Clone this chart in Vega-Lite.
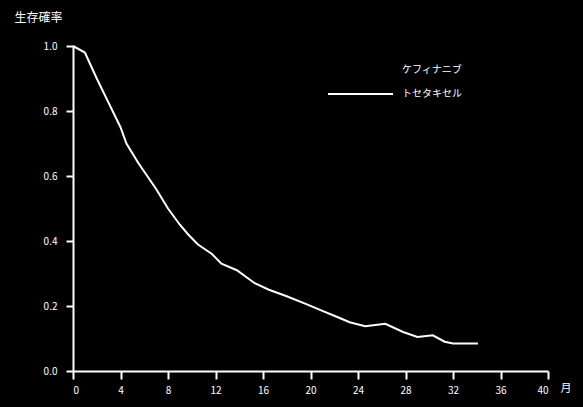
{
  "$schema": "https://vega.github.io/schema/vega-lite/v6.json",
  "width": 475,
  "height": 325,
  "autosize": {"type": "none"},
  "padding": {"left": 73, "top": 46, "right": 35, "bottom": 36},
  "background": "#000000",
  "config": {
    "view": {"stroke": null},
    "font": "Noto Sans CJK JP",
    "axis": {
      "domainColor": "#ffffff",
      "domainWidth": 2,
      "tickColor": "#ffffff",
      "tickWidth": 2,
      "grid": false,
      "labelColor": "#ffffff",
      "labelFontSize": 10,
      "labelFont": "Noto Sans CJK JP",
      "titleColor": "#ffffff",
      "titleFont": "Noto Sans CJK JP",
      "titleFontSize": 11,
      "titleFontWeight": "normal"
    },
    "legend": {
      "labelColor": "#ffffff",
      "labelFont": "Noto Sans CJK JP",
      "labelFontSize": 10
    }
  },
  "data": {
    "values": [
      {"t": 0, "s": 1.0, "g": "トセタキセル"},
      {"t": 1, "s": 0.98, "g": "トセタキセル"},
      {"t": 2, "s": 0.90, "g": "トセタキセル"},
      {"t": 3, "s": 0.825, "g": "トセタキセル"},
      {"t": 4, "s": 0.75, "g": "トセタキセル"},
      {"t": 4.5, "s": 0.70, "g": "トセタキセル"},
      {"t": 5.5, "s": 0.64, "g": "トセタキセル"},
      {"t": 7, "s": 0.56, "g": "トセタキセル"},
      {"t": 8, "s": 0.50, "g": "トセタキセル"},
      {"t": 9, "s": 0.45, "g": "トセタキセル"},
      {"t": 9.7, "s": 0.42, "g": "トセタキセル"},
      {"t": 10.5, "s": 0.39, "g": "トセタキセル"},
      {"t": 11.7, "s": 0.36, "g": "トセタキセル"},
      {"t": 12.5, "s": 0.33, "g": "トセタキセル"},
      {"t": 13.8, "s": 0.31, "g": "トセタキセル"},
      {"t": 15.3, "s": 0.27, "g": "トセタキセル"},
      {"t": 16.5, "s": 0.25, "g": "トセタキセル"},
      {"t": 18, "s": 0.23, "g": "トセタキセル"},
      {"t": 19.7, "s": 0.205, "g": "トセタキセル"},
      {"t": 21, "s": 0.185, "g": "トセタキセル"},
      {"t": 22, "s": 0.17, "g": "トセタキセル"},
      {"t": 23.3, "s": 0.15, "g": "トセタキセル"},
      {"t": 24.6, "s": 0.138, "g": "トセタキセル"},
      {"t": 26.3, "s": 0.145, "g": "トセタキセル"},
      {"t": 27.8, "s": 0.12, "g": "トセタキセル"},
      {"t": 29, "s": 0.105, "g": "トセタキセル"},
      {"t": 30.3, "s": 0.11, "g": "トセタキセル"},
      {"t": 31.3, "s": 0.09, "g": "トセタキセル"},
      {"t": 32, "s": 0.085, "g": "トセタキセル"},
      {"t": 34.1, "s": 0.085, "g": "トセタキセル"}
    ]
  },
  "mark": {"type": "line", "strokeWidth": 2},
  "encoding": {
    "x": {
      "field": "t",
      "type": "quantitative",
      "scale": {"domain": [0, 40], "nice": false},
      "axis": {
        "values": [0, 4, 8, 12, 16, 20, 24, 28, 32, 36, 40],
        "tickSize": 8,
        "labelPadding": 6,
        "title": "月",
        "titleX": 487,
        "titleY": 17,
        "titleAlign": "left",
        "titleBaseline": "middle",
        "titleAngle": 0
      }
    },
    "y": {
      "field": "s",
      "type": "quantitative",
      "scale": {"domain": [0, 1], "nice": false},
      "axis": {
        "values": [0, 0.2, 0.4, 0.6, 0.8, 1.0],
        "format": ".1f",
        "tickSize": 7,
        "labelPadding": 9,
        "title": "生存確率",
        "titleFontSize": 12,
        "titleAngle": 0,
        "titleX": -35,
        "titleY": -29,
        "titleAlign": "center",
        "titleBaseline": "middle"
      }
    },
    "color": {
      "field": "g",
      "type": "nominal",
      "scale": {"domain": ["ケフィナニブ", "トセタキセル"], "range": ["#000000", "#ffffff"]},
      "legend": {
        "title": null,
        "orient": "none",
        "legendX": 281.5,
        "legendY": 18,
        "symbolType": "M-6.5,0H6.5",
        "symbolSize": 100,
        "symbolStrokeWidth": 2,
        "labelOffset": 35.5,
        "rowPadding": 13
      }
    }
  }
}
